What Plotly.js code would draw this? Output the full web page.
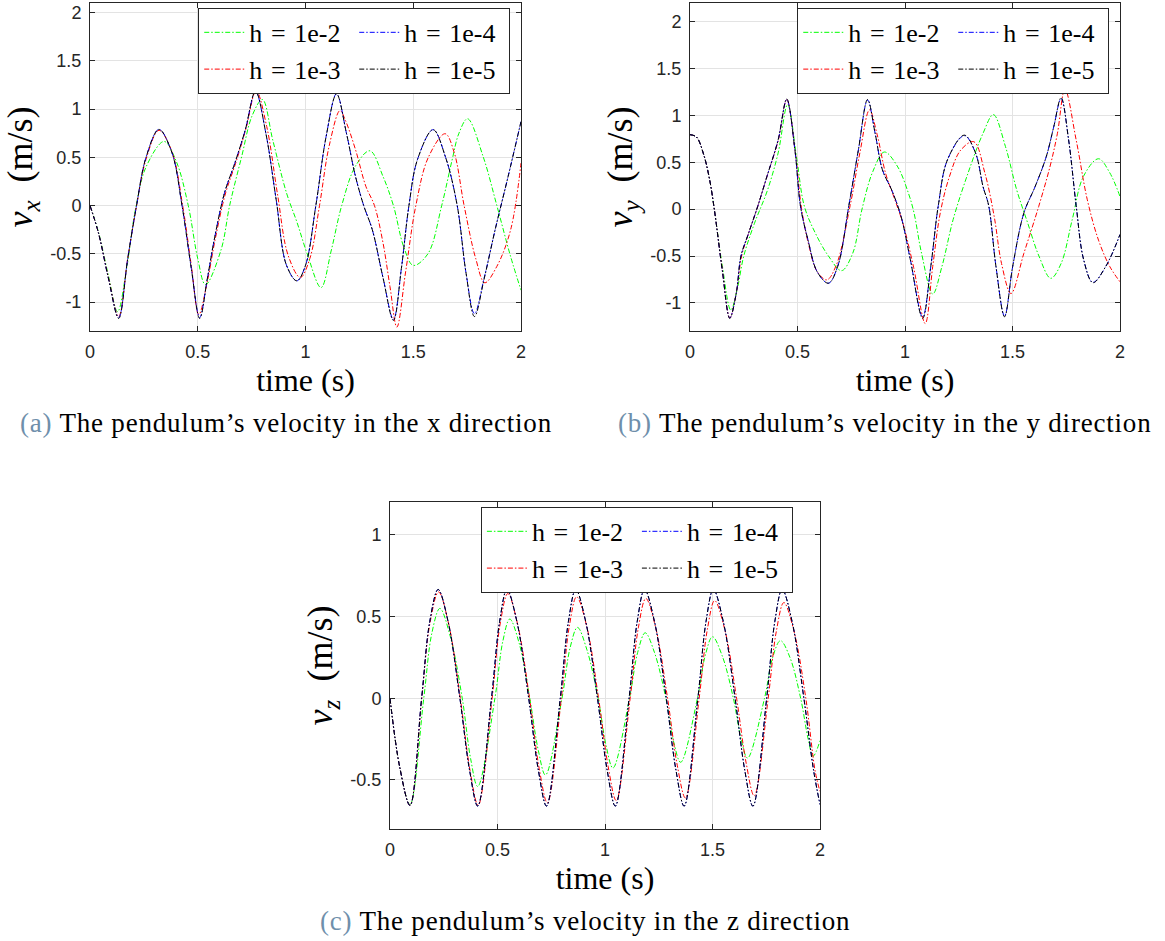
<!DOCTYPE html>
<html>
<head>
<meta charset="utf-8">
<script src="https://cdn.plot.ly/plotly-3.0.1.min.js"></script>
<style>
  html, body { margin: 0; padding: 0; background: #ffffff; }
  body { width: 1165px; height: 941px; position: relative; overflow: hidden; }
  .panel { position: absolute; }
  .cap { position: absolute; font-family: 'Liberation Serif', serif; font-size: 27px; color: #000; white-space: nowrap; letter-spacing: 0.8px; line-height: 32px; }
  .cap .lab { color: #6f8fab; }
</style>
</head>
<body>
<div id="panelA" class="panel" style="left:0px; top:0px; width:600px; height:400px;"></div>
<div id="panelB" class="panel" style="left:600px; top:0px; width:565px; height:400px;"></div>
<div id="panelC" class="panel" style="left:300px; top:470px; width:565px; height:430px;"></div>
<div class="cap" style="left:20px; top:407px;"><span class="lab">(a)</span> The pendulum’s velocity in the x direction</div>
<div class="cap" style="left:618px; top:407px;"><span class="lab">(b)</span> The pendulum’s velocity in the y direction</div>
<div class="cap" style="left:320px; top:905px;"><span class="lab">(c)</span> The pendulum’s velocity in the z direction</div>
<script>
// ---- step sizes and colours ----
const stepNames = ['h\u2004=\u20041e-2', 'h\u2004=\u20041e-3', 'h\u2004=\u20041e-4', 'h\u2004=\u20041e-5'];
const stepColors = ['#00ff00', '#ff0000', '#0000ff', '#000000'];
const legendRanks = [1, 3, 2, 4];

// ---- x velocity ----
const vxTime_h1e2 = [0, 0.04, 0.085, 0.128, 0.17, 0.21, 0.26, 0.344, 0.40, 0.456, 0.50, 0.536, 0.608, 0.648, 0.704, 0.752, 0.80, 0.848, 0.912, 0.96, 1.008, 1.072, 1.12, 1.168, 1.232, 1.299, 1.36, 1.408, 1.456, 1.50, 1.568, 1.632, 1.68, 1.712, 1.752, 1.824, 1.888, 1.952, 2.0];
const vx_h1e2 = [0, -0.28, -0.72, -1.10, -0.65, -0.05, 0.40, 0.665, 0.46, 0, -0.55, -0.82, -0.46, 0, 0.51, 0.93, 1.10, 0.68, 0.13, -0.17, -0.50, -0.85, -0.46, 0, 0.41, 0.568, 0.30, 0, -0.43, -0.62, -0.50, 0, 0.47, 0.75, 0.90, 0.51, 0, -0.53, -0.877];
const vxTime_h1e3 = [0, 0.04, 0.085, 0.133, 0.175, 0.216, 0.26, 0.32, 0.38, 0.43, 0.47, 0.505, 0.545, 0.58, 0.628, 0.676, 0.724, 0.771, 0.82, 0.87, 0.92, 0.976, 1.02, 1.065, 1.11, 1.16, 1.184, 1.232, 1.28, 1.32, 1.36, 1.392, 1.424, 1.465, 1.512, 1.57, 1.648, 1.69, 1.736, 1.79, 1.832, 1.888, 1.952, 2.0];
const vx_h1e3 = [0, -0.29, -0.74, -1.15, -0.55, 0, 0.48, 0.78, 0.56, 0, -0.62, -1.13, -0.78, -0.36, 0.12, 0.44, 0.80, 1.19, 0.82, 0.12, -0.52, -0.745, -0.55, 0, 0.62, 0.985, 0.89, 0.58, 0.2, 0, -0.39, -0.84, -1.26, -0.68, 0, 0.5, 0.745, 0.55, 0, -0.55, -0.80, -0.63, -0.25, 0.44];
const vxTime_fine = [0, 0.04, 0.085, 0.133, 0.175, 0.216, 0.26, 0.32, 0.38, 0.427, 0.47, 0.509, 0.545, 0.576, 0.624, 0.672, 0.72, 0.768, 0.816, 0.864, 0.912, 0.96, 1.0, 1.048, 1.096, 1.144, 1.19, 1.23, 1.27, 1.31, 1.36, 1.408, 1.445, 1.48, 1.52, 1.592, 1.65, 1.704, 1.745, 1.784, 1.83, 1.88, 1.94, 2.0];
const vx_h1e4 = [0, -0.29, -0.75, -1.16, -0.55, 0, 0.50, 0.79, 0.55, 0, -0.65, -1.16, -0.75, -0.36, 0.13, 0.44, 0.78, 1.18, 0.75, 0.06, -0.62, -0.78, -0.62, 0, 0.72, 1.16, 0.75, 0.32, 0, -0.25, -0.75, -1.18, -0.65, 0, 0.48, 0.787, 0.50, 0, -0.7, -1.12, -0.74, -0.25, 0.3, 0.87];
const vx_h1e5 = [0, -0.29, -0.75, -1.17, -0.55, 0, 0.50, 0.79, 0.55, 0, -0.65, -1.17, -0.75, -0.36, 0.13, 0.44, 0.78, 1.185, 0.75, 0.06, -0.62, -0.78, -0.62, 0, 0.72, 1.157, 0.75, 0.32, 0, -0.25, -0.75, -1.19, -0.65, 0, 0.48, 0.787, 0.50, 0, -0.7, -1.15, -0.75, -0.25, 0.3, 0.87];

// ---- y velocity ----
const vyTime_h1e2 = [0, 0.03, 0.064, 0.09, 0.113, 0.15, 0.19, 0.22, 0.25, 0.30, 0.36, 0.41, 0.454, 0.497, 0.532, 0.584, 0.644, 0.705, 0.757, 0.80, 0.85, 0.904, 0.964, 1.016, 1.042, 1.077, 1.129, 1.172, 1.224, 1.294, 1.363, 1.411, 1.467, 1.519, 1.571, 1.623, 1.678, 1.726, 1.778, 1.83, 1.90, 1.952, 2.0];
const vy_h1e2 = [0.795, 0.77, 0.58, 0.33, 0, -0.6, -1.077, -0.85, -0.5, -0.15, 0.2, 0.6, 1.116, 0.53, 0.03, -0.26, -0.5, -0.656, -0.47, 0, 0.4, 0.61, 0.46, 0.17, -0.04, -0.47, -0.905, -0.61, -0.11, 0.39, 0.81, 1.009, 0.67, 0.21, -0.15, -0.5, -0.738, -0.58, -0.11, 0.35, 0.538, 0.39, 0.135];
const vyTime_h1e3 = [0, 0.03, 0.064, 0.09, 0.113, 0.15, 0.185, 0.215, 0.24, 0.272, 0.315, 0.358, 0.41, 0.45, 0.49, 0.518, 0.55, 0.59, 0.636, 0.68, 0.745, 0.79, 0.835, 0.87, 0.91, 0.95, 0.99, 1.04, 1.094, 1.129, 1.164, 1.207, 1.259, 1.32, 1.371, 1.415, 1.449, 1.493, 1.553, 1.622, 1.675, 1.709, 1.744, 1.796, 1.848, 1.90, 1.952, 2.0];
const vy_h1e3 = [0.795, 0.77, 0.58, 0.33, 0, -0.64, -1.16, -0.9, -0.5, -0.26, 0.03, 0.35, 0.73, 1.17, 0.6, 0.02, -0.36, -0.66, -0.755, -0.6, 0.04, 0.6, 1.06, 0.8, 0.38, 0.12, -0.15, -0.62, -1.22, -0.61, -0.04, 0.35, 0.63, 0.72, 0.39, -0.08, -0.58, -0.90, -0.47, 0.03, 0.46, 0.81, 1.28, 0.74, 0.1, -0.33, -0.61, -0.775];
const vyTime_fine = [0, 0.03, 0.064, 0.09, 0.113, 0.15, 0.185, 0.215, 0.237, 0.272, 0.315, 0.358, 0.41, 0.45, 0.488, 0.514, 0.549, 0.592, 0.644, 0.687, 0.739, 0.783, 0.826, 0.861, 0.895, 0.939, 0.982, 1.025, 1.082, 1.12, 1.155, 1.198, 1.276, 1.328, 1.363, 1.389, 1.423, 1.463, 1.501, 1.553, 1.605, 1.657, 1.692, 1.726, 1.761, 1.796, 1.831, 1.874, 1.934, 2.0];
const vy_h1e4 = [0.795, 0.77, 0.58, 0.33, 0, -0.65, -1.16, -0.9, -0.5, -0.26, 0.03, 0.35, 0.74, 1.17, 0.63, 0.03, -0.33, -0.67, -0.79, -0.61, 0.04, 0.63, 1.165, 0.81, 0.42, 0.2, -0.08, -0.54, -1.15, -0.61, 0.04, 0.53, 0.785, 0.6, 0.24, 0.04, -0.61, -1.14, -0.61, -0.04, 0.24, 0.56, 0.88, 1.18, 0.74, 0.04, -0.54, -0.78, -0.61, -0.27];
const vy_h1e5 = [0.795, 0.77, 0.58, 0.33, 0, -0.65, -1.166, -0.9, -0.5, -0.26, 0.03, 0.35, 0.74, 1.176, 0.63, 0.03, -0.33, -0.67, -0.79, -0.61, 0.04, 0.63, 1.17, 0.81, 0.42, 0.2, -0.08, -0.54, -1.166, -0.61, 0.04, 0.53, 0.79, 0.6, 0.24, 0.04, -0.61, -1.148, -0.61, -0.04, 0.24, 0.56, 0.88, 1.19, 0.74, 0.04, -0.54, -0.785, -0.61, -0.27];

// ---- z velocity ----
const vzTime_h1e2 = [0, 0.045, 0.093, 0.157, 0.195, 0.232, 0.28, 0.336, 0.375, 0.408, 0.488, 0.525, 0.557, 0.6, 0.65, 0.69, 0.723, 0.8, 0.838, 0.872, 0.915, 0.968, 1.005, 1.037, 1.114, 1.152, 1.187, 1.23, 1.283, 1.32, 1.352, 1.43, 1.466, 1.50, 1.545, 1.597, 1.633, 1.663, 1.742, 1.78, 1.816, 1.86, 1.91, 1.945, 1.968, 2.0];
const vz_h1e2 = [0, -0.42, -0.65, 0, 0.4, 0.549, 0.38, 0, -0.37, -0.54, 0, 0.35, 0.484, 0.34, 0, -0.32, -0.47, 0, 0.31, 0.433, 0.30, 0, -0.29, -0.427, 0, 0.28, 0.40, 0.28, 0, -0.27, -0.392, 0, 0.26, 0.376, 0.26, 0, -0.25, -0.366, 0, 0.25, 0.352, 0.25, 0, -0.25, -0.355, -0.26];
const vzTime_h1e3 = [0, 0.045, 0.093, 0.148, 0.186, 0.226, 0.272, 0.327, 0.372, 0.41, 0.475, 0.513, 0.548, 0.594, 0.649, 0.694, 0.732, 0.797, 0.834, 0.868, 0.915, 0.97, 1.015, 1.052, 1.117, 1.155, 1.19, 1.236, 1.291, 1.336, 1.374, 1.438, 1.476, 1.51, 1.557, 1.612, 1.657, 1.694, 1.759, 1.797, 1.832, 1.879, 1.934, 1.978, 2.0];
const vz_h1e3 = [0, -0.42, -0.655, 0, 0.46, 0.65, 0.46, 0, -0.44, -0.655, 0, 0.46, 0.64, 0.45, 0, -0.43, -0.64, 0, 0.44, 0.62, 0.44, 0, -0.42, -0.625, 0, 0.43, 0.61, 0.43, 0, -0.41, -0.61, 0, 0.42, 0.597, 0.42, 0, -0.4, -0.597, 0, 0.41, 0.585, 0.41, 0, -0.45, -0.57];
const vzTime_fine = [0, 0.045, 0.093, 0.147, 0.185, 0.224, 0.27, 0.325, 0.37, 0.408, 0.472, 0.51, 0.544, 0.59, 0.645, 0.69, 0.728, 0.792, 0.83, 0.864, 0.91, 0.965, 1.01, 1.048, 1.112, 1.15, 1.184, 1.23, 1.285, 1.33, 1.368, 1.432, 1.47, 1.504, 1.55, 1.605, 1.65, 1.688, 1.752, 1.79, 1.824, 1.87, 1.925, 1.97, 2.0];
const vz_h1e4 = [0, -0.42, -0.656, 0, 0.47, 0.665, 0.47, 0, -0.44, -0.66, 0, 0.47, 0.665, 0.47, 0, -0.44, -0.66, 0, 0.47, 0.665, 0.47, 0, -0.44, -0.66, 0, 0.47, 0.665, 0.47, 0, -0.44, -0.66, 0, 0.47, 0.665, 0.47, 0, -0.44, -0.66, 0, 0.47, 0.665, 0.47, 0, -0.44, -0.65];
const vz_h1e5 = [0, -0.42, -0.656, 0, 0.47, 0.665, 0.47, 0, -0.44, -0.66, 0, 0.47, 0.665, 0.47, 0, -0.44, -0.66, 0, 0.47, 0.665, 0.47, 0, -0.44, -0.66, 0, 0.47, 0.665, 0.47, 0, -0.44, -0.66, 0, 0.47, 0.665, 0.47, 0, -0.44, -0.66, 0, 0.47, 0.665, 0.47, 0, -0.44, -0.65];

// ---- ticks ----
const timeTicks = [0, 0.5, 1, 1.5, 2];
const timeTickLabels = ['0', '0.5', '1', '1.5', '2'];
const vxyTicks = [-1, -0.5, 0, 0.5, 1, 1.5, 2];
const vxyTickLabels = ['-1', '-0.5', '0', '0.5', '1', '1.5', '2'];
const vzTicks = [-0.5, 0, 0.5, 1];
const vzTickLabels = ['-0.5', '0', '0.5', '1'];

const TICK_FONT = { family: 'Liberation Sans, Arial, sans-serif', size: 18, color: '#262626' };
const SERIF = 'Liberation Serif, Times New Roman, serif';
const DASH = '5px,2px,1.5px,2px';

function makeTraces(series) {
  return series.map(function (s, i) {
    return {
      type: 'scatter', mode: 'lines',
      x: s[0], y: s[1],
      name: stepNames[i],
      legendrank: legendRanks[i],
      line: { color: stepColors[i], width: 1, dash: DASH, shape: 'spline', smoothing: 1 },
      hoverinfo: 'skip'
    };
  });
}

function baseAxis(range, ticks, labels) {
  return {
    range: range, autorange: false, fixedrange: true,
    tickmode: 'array', tickvals: ticks, ticktext: labels,
    ticks: 'inside', ticklen: 5, tickwidth: 1, tickcolor: '#262626',
    showline: true, linecolor: '#262626', linewidth: 1, mirror: 'ticks',
    showgrid: true, gridcolor: '#e3e3e3', gridwidth: 1, zeroline: false,
    tickfont: TICK_FONT, automargin: false
  };
}

function makeLayout(w, h, margin, yRange, yTicks, yLabels, yTitle, legendX) {
  const xa = baseAxis([0, 2], timeTicks, timeTickLabels);
  xa.ticklabelstandoff = 4;
  xa.title = { text: 'time (s)', font: { family: SERIF, size: 32, color: '#000' }, standoff: 0 };
  const ya = baseAxis(yRange, yTicks, yLabels);
  ya.ticklabelstandoff = 4;
  ya.title = { text: yTitle, font: { family: SERIF, size: 36, color: '#000' }, standoff: 6 };
  return {
    width: w, height: h, margin: margin,
    paper_bgcolor: 'rgba(0,0,0,0)', plot_bgcolor: '#ffffff',
    showlegend: true,
    legend: {
      orientation: 'h', x: legendX, xanchor: 'right', y: 0.985, yanchor: 'top',
      bgcolor: '#ffffff', bordercolor: '#262626', borderwidth: 1,
      font: { family: SERIF, size: 26, color: '#000' },
      entrywidth: 100, entrywidthmode: 'pixels', itemwidth: 40,
      traceorder: 'normal', tracegroupgap: 0, itemclick: false, itemdoubleclick: false
    },
    xaxis: xa, yaxis: ya
  };
}

const config = { staticPlot: true, displayModeBar: false };

Plotly.newPlot('panelA', makeTraces([
  [vxTime_h1e2, vx_h1e2], [vxTime_h1e3, vx_h1e3], [vxTime_fine, vx_h1e4], [vxTime_fine, vx_h1e5]
]), makeLayout(600, 400, { l: 90, r: 79, t: 3, b: 69 }, [-1.3, 2.1], vxyTicks, vxyTickLabels,
  '<i>v</i><sub><i>x</i></sub>  (m/s)', 0.975), config);

Plotly.newPlot('panelB', makeTraces([
  [vyTime_h1e2, vy_h1e2], [vyTime_h1e3, vy_h1e3], [vyTime_fine, vy_h1e4], [vyTime_fine, vy_h1e5]
]), makeLayout(565, 400, { l: 90, r: 45, t: 3, b: 69 }, [-1.3, 2.2], vxyTicks, vxyTickLabels,
  '<i>v</i><sub><i>y</i></sub>  (m/s)', 0.975), config);

Plotly.newPlot('panelC', makeTraces([
  [vzTime_h1e2, vz_h1e2], [vzTime_h1e3, vz_h1e3], [vzTime_fine, vz_h1e4], [vzTime_fine, vz_h1e5]
]), makeLayout(565, 430, { l: 90, r: 45, t: 32, b: 71 }, [-0.8, 1.2], vzTicks, vzTickLabels,
  '<i>v</i><sub><i>z</i></sub>  (m/s)', 0.937), config);
</script>
</body>
</html>
